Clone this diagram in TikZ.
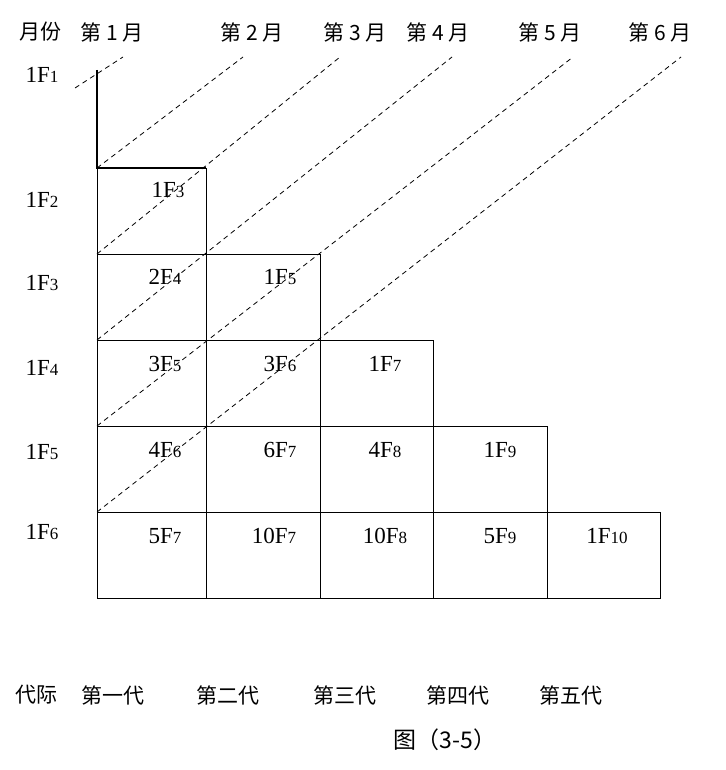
\documentclass[tikz,border=0pt]{standalone}
\usepackage{fontspec}
\setmainfont{Liberation Serif}
\newfontfamily\cjk{Noto Sans CJK SC}
\newcommand{\ff}[2]{#1F\raisebox{-0.5pt}{\fontsize{17}{17}\selectfont #2}}
\begin{document}
\begin{tikzpicture}[x=1pt,y=-1pt,
  lbl/.style={font=\fontsize{23}{25}\selectfont, inner sep=0pt},
  cj/.style={font=\cjk\fontsize{21}{24}\selectfont, inner sep=0pt},
  dl/.style={dashed, dash pattern=on 5pt off 4pt, line width=0.8pt}]
\useasboundingbox (0,0) rectangle (725,770);
% header
\node[cj] (h0) at (40,32) {月份};
\node[cj] (h1) at (112,32) {第 1 月};
\node[cj] (h2) at (252,32) {第 2 月};
\node[cj] (h3) at (355,32) {第 3 月};
\node[cj] (h4) at (438,32) {第 4 月};
\node[cj] (h5) at (550,32) {第 5 月};
\node[cj] (h6) at (660,32) {第 6 月};
% left labels
\node[lbl] (l1) at (42,75) {\ff{1}{1}};
\node[lbl] (l2) at (42,200) {\ff{1}{2}};
\node[lbl] (l3) at (42,283) {\ff{1}{3}};
\node[lbl] (l4) at (42,368) {\ff{1}{4}};
\node[lbl] (l5) at (42,452) {\ff{1}{5}};
\node[lbl] (l6) at (42,532) {\ff{1}{6}};
% grid
\draw[line width=0.8pt] (97,168) rectangle (206,254);
\draw[line width=0.8pt] (97,254) rectangle (206,340) (206,254) rectangle (320,340);
\foreach \x/\y in {97/206,206/320,320/433} \draw[line width=0.8pt] (\x,340) rectangle (\y,426);
\foreach \x/\y in {97/206,206/320,320/433,433/547} \draw[line width=0.8pt] (\x,426) rectangle (\y,512);
\foreach \x/\y in {97/206,206/320,320/433,433/547,547/660} \draw[line width=0.8pt] (\x,512) rectangle (\y,598);
\draw[line width=1.5pt] (97,70) -- (97,168) -- (206,168);
% dashed lines
\coordinate (a1) at (75,88); \coordinate (b1) at (123,57);
\coordinate (a2) at (97,168); \coordinate (b2) at (243,57);
\coordinate (a3) at (97,254); \coordinate (b3) at (340,57);
\coordinate (a4) at (97,340); \coordinate (b4) at (452,57);
\coordinate (a5) at (97,426); \coordinate (b5) at (573,57);
\coordinate (a6) at (97,512); \coordinate (b6) at (681,57);
\foreach \i in {1,...,6} \draw[dl] (a\i) -- (b\i);
% cell labels
\node[lbl] (c11) at (168,190) {\ff{1}{3}};
\node[lbl] (c21) at (165,277) {\ff{2}{4}};
\node[lbl] (c22) at (280,277) {\ff{1}{5}};
\node[lbl] (c31) at (165,364) {\ff{3}{5}};
\node[lbl] (c32) at (280,364) {\ff{3}{6}};
\node[lbl] (c33) at (385,364) {\ff{1}{7}};
\node[lbl] (c41) at (165,450) {\ff{4}{6}};
\node[lbl] (c42) at (280,450) {\ff{6}{7}};
\node[lbl] (c43) at (385,450) {\ff{4}{8}};
\node[lbl] (c44) at (500,450) {\ff{1}{9}};
\node[lbl] (c51) at (165,536) {\ff{5}{7}};
\node[lbl] (c52) at (274,536) {\ff{10}{7}};
\node[lbl] (c53) at (385,536) {\ff{10}{8}};
\node[lbl] (c54) at (500,536) {\ff{5}{9}};
\node[lbl] (c55) at (607,536) {\ff{1}{10}};
% bottom
\node[cj] (g0) at (37,695) {代际};
\node[cj] (g1) at (113,695) {第一代};
\node[cj] (g2) at (228,695) {第二代};
\node[cj] (g3) at (345,695) {第三代};
\node[cj] (g4) at (458,695) {第四代};
\node[cj] (g5) at (571,695) {第五代};
\node[cj,font=\cjk\fontsize{23}{26}\selectfont] (fig) at (445,740) {图（3-5）};
\end{tikzpicture}
\end{document}
